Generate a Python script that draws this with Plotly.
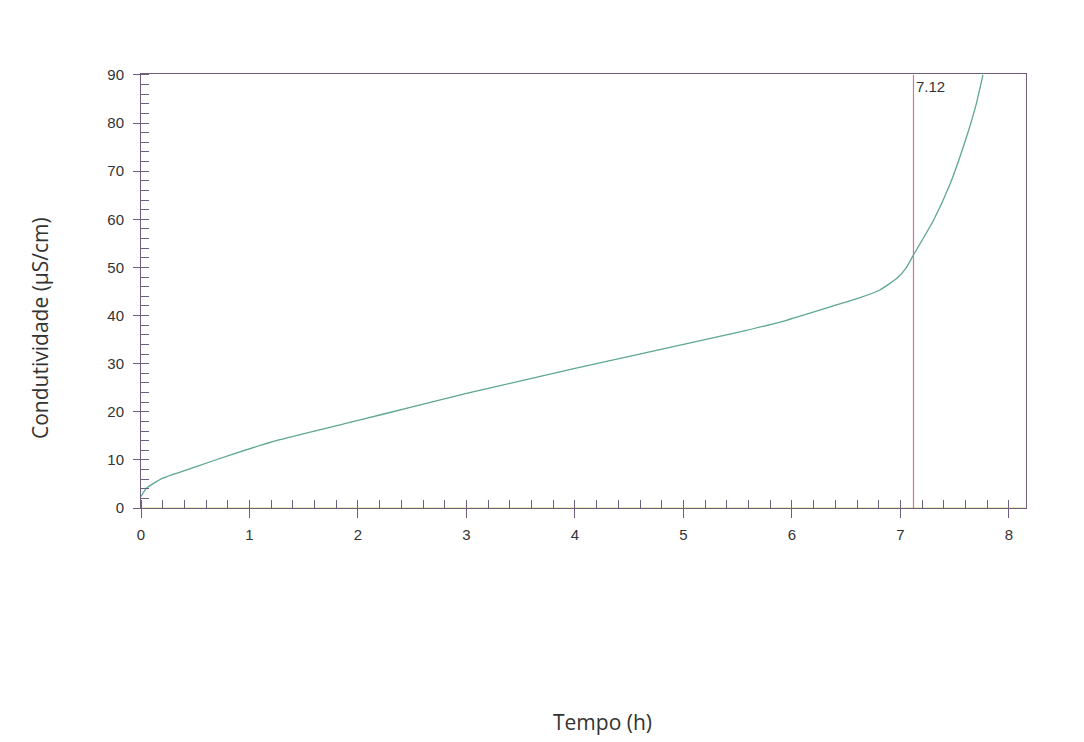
import plotly.graph_objects as go

# Data
tempo_h = [0, 0.05, 0.2, 0.51, 0.82, 1.28, 2, 2.5, 3, 3.5, 4, 4.5, 5, 5.5,
           5.9, 6.35, 6.6, 6.81, 6.97, 7.05, 7.12, 7.30, 7.46, 7.61, 7.70, 7.76]
condutividade = [2.4, 4.1, 6.2, 8.6, 11, 14.2, 18.2, 21, 23.8, 26.4, 29, 31.5, 34, 36.5,
                 38.7, 41.8, 43.5, 45.3, 47.8, 49.8, 52.6, 59.6, 67.5, 77.2, 84.1, 90]
marker_x = 7.12
marker_label = "7.12"
x_range = [0, 8.157]
y_range = [0, 90.2]
x_ticks = list(range(0, 9))
y_ticks = list(range(0, 100, 10))

axis_col = "#6e5f80"
tick_font = dict(family="Liberation Sans, Arial, sans-serif", size=15, color="#333333")

fig = go.Figure()
fig.add_trace(go.Scatter(x=tempo_h, y=condutividade, mode="lines",
                         line=dict(color="#5ea88e", width=1.3, shape="spline", smoothing=0.5),
                         hoverinfo="x+y", showlegend=False))
# baseline at zero
fig.add_trace(go.Scatter(x=x_range, y=[0, 0], mode="lines",
                         line=dict(color="#d8d86a", width=1.2), showlegend=False, hoverinfo="skip"))
# marker vertical line
fig.add_trace(go.Scatter(x=[marker_x, marker_x], y=[0, 90], mode="lines",
                         line=dict(color="#e0708a", width=1.2), showlegend=False, hoverinfo="skip"))
# dummy trace for overlay axes
fig.add_trace(go.Scatter(x=[None], y=[None], xaxis="x2", yaxis="y2", showlegend=False))

fig.add_annotation(x=marker_x, y=90, xref="x", yref="y", text=marker_label, showarrow=False,
                   xanchor="left", yanchor="top", xshift=1, yshift=-1,
                   font=dict(family="Liberation Sans, Arial, sans-serif", size=15, color="#333333"))
fig.add_annotation(x=0.522, y=-0.493, xref="paper", yref="paper", text="Tempo (h)", showarrow=False,
                   xanchor="center", yanchor="middle",
                   font=dict(family="Open Sans, Noto Sans, sans-serif", size=21, color="#333333"))
fig.add_annotation(x=-0.114, y=0.415, xref="paper", yref="paper", text="Condutividade (µS/cm)",
                   showarrow=False, textangle=-90, xanchor="center", yanchor="middle",
                   font=dict(family="Open Sans, Noto Sans, sans-serif", size=21, color="#333333"))

fig.update_layout(
    width=1084, height=742,
    margin=dict(l=141, r=58, t=74, b=234),
    paper_bgcolor="white", plot_bgcolor="white",
    xaxis=dict(range=x_range, tickvals=x_ticks, ticks="outside", ticklen=9, tickcolor=axis_col,
               tickfont=tick_font, showgrid=False, zeroline=False, showline=True,
               linecolor=axis_col, linewidth=1, mirror=True, ticklabelstandoff=4,
               minor=dict(dtick=0.2, tick0=0, ticks="inside", ticklen=8, tickcolor=axis_col, showgrid=False)),
    yaxis=dict(range=y_range, tickvals=y_ticks, ticks="outside", ticklen=7, tickcolor=axis_col,
               tickfont=tick_font, showgrid=False, zeroline=False, showline=True,
               linecolor=axis_col, linewidth=1, mirror=True, ticklabelstandoff=6,
               minor=dict(dtick=2, tick0=0, ticks="inside", ticklen=8, tickcolor=axis_col, showgrid=False)),
    xaxis2=dict(range=x_range, overlaying="x", side="bottom", anchor="y", tickvals=x_ticks,
                ticks="inside", ticklen=8, tickcolor=axis_col, showticklabels=False,
                showgrid=False, zeroline=False, showline=False),
    yaxis2=dict(range=y_range, overlaying="y", side="left", anchor="x", tickvals=y_ticks,
                ticks="inside", ticklen=8, tickcolor=axis_col, showticklabels=False,
                showgrid=False, zeroline=False, showline=False),
)

fig.write_html("out.html")
